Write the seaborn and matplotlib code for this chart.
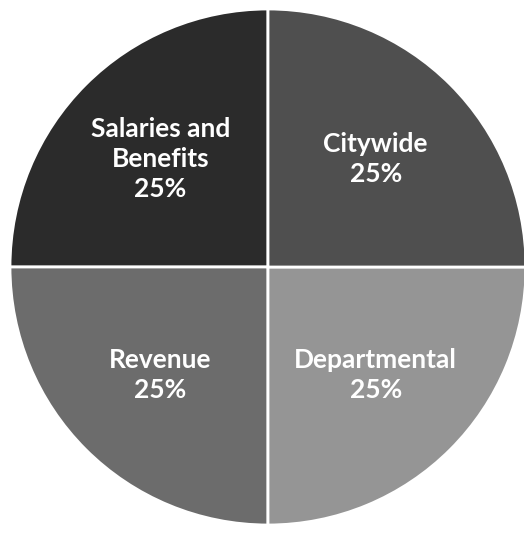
import matplotlib
matplotlib.use("Agg")
import matplotlib.pyplot as plt
import seaborn as sns

categories = ["Salaries and\nBenefits", "Revenue", "Departmental", "Citywide"]
values = [25, 25, 25, 25]
colors = ["#2b2b2b", "#6c6c6c", "#959595", "#4f4f4f"]

sns.set_theme(style="white")
plt.rcParams["font.family"] = ["Lato", "DejaVu Sans"]

fig = plt.figure(figsize=(5.24, 5.37), dpi=100)
ax = fig.add_axes([0, 0, 1, 1])

total = sum(values)
labels = [f"{c}\n{v / total * 100:.0f}%" for c, v in zip(categories, values)]
wedges, texts = ax.pie(values, labels=labels, colors=colors, startangle=90,
                       counterclock=True, labeldistance=0.59,
                       wedgeprops=dict(edgecolor="white", linewidth=2))
for t in texts:
    t.set_ha("center")
    t.set_va("center")
    t.set_color("white")
    t.set_fontsize(19)
    t.set_fontweight("bold")
    t.set_linespacing(1.3)

ax.set_aspect("auto")
ax.set_xlim(-268 / 258, (524 - 268) / 258)
ax.set_ylim(-(537 - 267) / 258, 267 / 258)
ax.axis("off")
fig.savefig("out.png", dpi=100, facecolor="white")
